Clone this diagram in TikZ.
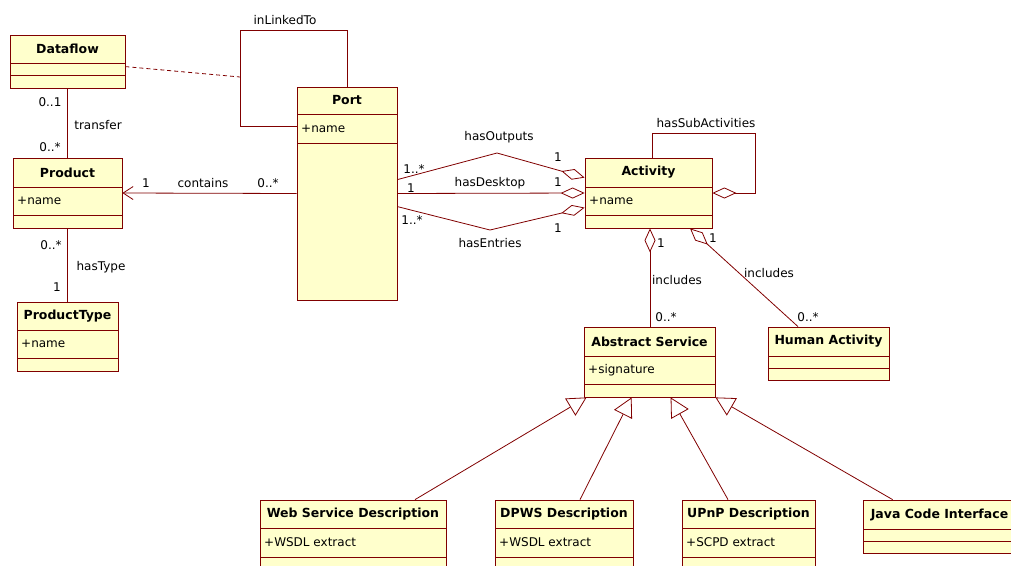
\documentclass[tikz,border=0pt]{standalone}
\usepackage{fontspec}
\setmainfont{DejaVu Sans}
\usetikzlibrary{arrows.meta,calc,fit}

\definecolor{umlfill}{RGB}{255,255,204}
\definecolor{umlred}{RGB}{128,0,0}

% クラスの箱: 名前, x1, y1, x2, y2, 区切り1, 区切り2, クラス名, 属性
\newcommand{\umlclass}[9]{%
  \node[umlbox, fit={(#2,#3) (#4,#5)}] (#1) {};
  \draw[umlsep] (#2,#6) -- (#4,#6);
  \draw[umlsep] (#2,#7) -- (#4,#7);
  \node[umltitle] (#1-t) at ({(#2+#4)/2},{(#3+#6)/2}) {#8};
  \node[umlattr] (#1-a) at (#2,{(#6+#7)/2}) {#9};
}

\begin{document}
\begin{tikzpicture}[x=1pt, y=-1pt,
    font=\fontsize{12}{14}\selectfont,
    umlbox/.style={draw=umlred, fill=umlfill, line width=0.8pt, inner sep=0pt},
    umlsep/.style={draw=umlred, line width=0.8pt},
    umltitle/.style={font=\fontsize{12.5}{14}\selectfont\bfseries, inner sep=0pt},
    umlattr/.style={anchor=west, inner sep=0pt, xshift=4pt},
    assoc/.style={draw=umlred, line width=0.8pt},
    aggr/.style={assoc, {Diamond[fill=white, length=24pt, width=11pt]}-},
    gen/.style={assoc, -{Triangle[fill=white, length=19pt, width=20pt]}},
    lbl/.style={inner sep=0pt}]

    \useasboundingbox (0,0) rectangle (1011,565);
    \clip (0,0) rectangle (1011,565);

    % クラス
    \umlclass{dataflow}{10}{35}{125}{88}{63}{75}{Dataflow}{}
    \umlclass{port}{297}{87}{397}{300}{114}{143}{Port}{+name}
    \umlclass{product}{13}{158}{122}{228}{187}{215}{Product}{+name}
    \umlclass{ptype}{17}{302}{118}{371}{330}{358}{ProductType}{+name}
    \umlclass{act}{585}{158}{712}{228}{187}{215}{Activity}{+name}
    \umlclass{asvc}{584}{327}{715}{397}{356}{384}{Abstract Service}{+signature}
    \umlclass{hact}{768}{327}{889}{380}{356}{368}{Human Activity}{}
    \umlclass{wsd}{260}{500}{446}{585}{528}{557}{Web Service Description}{+WSDL extract}
    \umlclass{dpws}{495}{500}{633}{585}{528}{557}{DPWS Description}{+WSDL extract}
    \umlclass{upnp}{682}{500}{815}{585}{528}{557}{UPnP Description}{+SCPD extract}
    \umlclass{java}{863}{500}{1016}{553}{529}{541}{Java Code Interface}{}

    % 自己関連 inLinkedTo と点線
    \coordinate (loop) at (240,30);
    \coordinate (dashend) at (240,77);
    \draw[assoc] (port.north) |- (loop) |- ([yshift=-40pt]port.north west);
    \draw[assoc, dash pattern=on 4pt off 3pt] ([yshift=-32pt]dataflow.north east) -- (dashend);
    \node[lbl] (l-link) at (285,20) {inLinkedTo};

    % transfer, contains, hasType
    \draw[assoc] (dataflow.south) -- (product.north);
    \draw[assoc, -{Straight Barb[length=10pt, width=13pt]}] (port.west) -- (product.east);
    \draw[assoc] (product.south) -- (ptype.north);
    \node[lbl] (m-tr1) at (50,102) {0..1};
    \node[lbl] (l-tr) at (98,125) {transfer};
    \node[lbl] (m-tr2) at (50,147) {0..*};
    \node[lbl] (m-co1) at (146,183) {1};
    \node[lbl] (l-co) at (203,183) {contains};
    \node[lbl] (m-co2) at (268,183) {0..*};
    \node[lbl] (m-ty1) at (51,245) {0..*};
    \node[lbl] (l-ty) at (101,267) {hasType};
    \node[lbl] (m-ty2) at (57,287) {1};

    % Port と Activity の集約
    \draw[aggr] ([yshift=-20pt]act.north west) -- (497,153) -- ([yshift=-93pt]port.north east);
    \draw[aggr] (act.west) -- (port.east);
    \draw[aggr] ([yshift=-50pt]act.north west) -- (490,230) -- ([yshift=-120pt]port.north east);
    \node[lbl] (l-out) at (499,137) {hasOutputs};
    \node[lbl] (m-out1) at (414,169) {1..*};
    \node[lbl] (m-out2) at (558,157) {1};
    \node[lbl] (l-desk) at (490,183) {hasDesktop};
    \node[lbl] (m-desk1) at (411,188) {1};
    \node[lbl] (m-desk2) at (558,182) {1};
    \node[lbl] (l-ent) at (490,243) {hasEntries};
    \node[lbl] (m-ent1) at (412,220) {1..*};
    \node[lbl] (m-ent2) at (558,228) {1};

    % hasSubActivities
    \coordinate (sub) at (755,133);
    \draw[aggr] (act.east) -| (sub) -| ([xshift=3.5pt]act.north);
    \node[lbl] (l-sub) at (706,123) {hasSubActivities};

    % includes
    \draw[aggr] ([xshift=1.5pt]act.south) -- ([xshift=0.5pt]asvc.north);
    \draw[aggr] ([xshift=41.5pt]act.south) -- ([xshift=-30.5pt]hact.north);
    \node[lbl] (m-in1) at (661,243) {1};
    \node[lbl] (l-in1) at (677,280) {includes};
    \node[lbl] (m-in2) at (666,317) {0..*};
    \node[lbl] (m-in3) at (713,238) {1};
    \node[lbl] (l-in2) at (769,273) {includes};
    \node[lbl] (m-in4) at (808,317) {0..*};

    % 汎化
    \draw[gen] ([xshift=62pt]wsd.north) -- ([xshift=3pt]asvc.south west);
    \draw[gen] ([xshift=16pt]dpws.north) -- ([xshift=48pt]asvc.south west);
    \draw[gen] ([xshift=-20.5pt]upnp.north) -- ([xshift=87pt]asvc.south west);
    \draw[gen] ([xshift=30pt]java.north west) -- (asvc.south east);

\end{tikzpicture}
\end{document}
